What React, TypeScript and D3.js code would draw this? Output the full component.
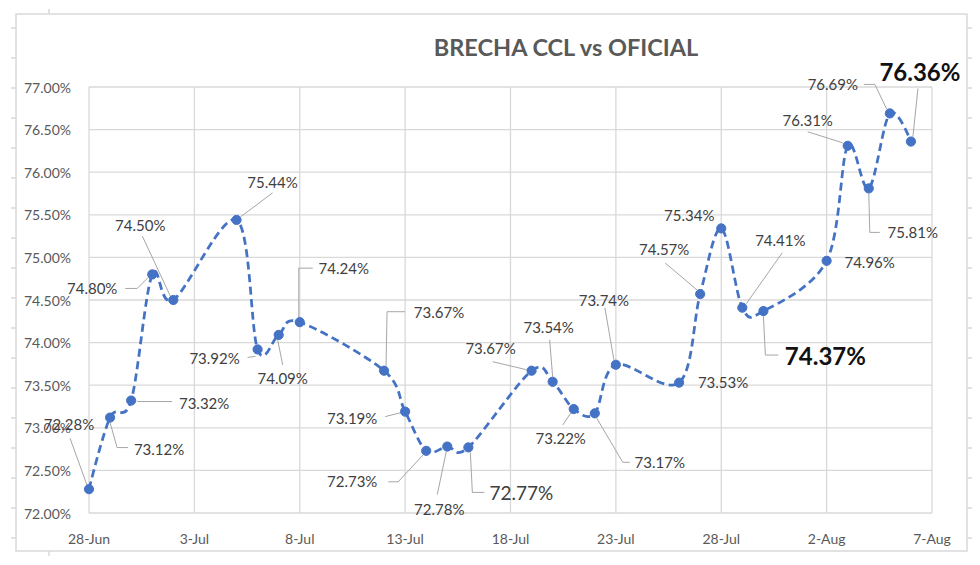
import React from "react";
import * as d3 from "d3";

const dates: string[] = [
  "2021-06-28", "2021-06-29", "2021-06-30", "2021-07-01", "2021-07-02",
  "2021-07-05", "2021-07-06", "2021-07-07", "2021-07-08",
  "2021-07-12", "2021-07-13", "2021-07-14", "2021-07-15", "2021-07-16",
  "2021-07-19", "2021-07-20", "2021-07-21", "2021-07-22", "2021-07-23",
  "2021-07-26", "2021-07-27", "2021-07-28", "2021-07-29", "2021-07-30",
  "2021-08-02", "2021-08-03", "2021-08-04", "2021-08-05", "2021-08-06",
];
const values: number[] = [
  72.28, 73.12, 73.32, 74.80, 74.50,
  75.44, 73.92, 74.09, 74.24,
  73.67, 73.19, 72.73, 72.78, 72.77,
  73.67, 73.54, 73.22, 73.17, 73.74,
  73.53, 74.57, 75.34, 74.41, 74.37,
  74.96, 76.31, 75.81, 76.69, 76.36,
];
const title = "BRECHA CCL vs OFICIAL";
const xDomain: string[] = ["2021-06-28", "2021-08-07"];
const yDomain: number[] = [72, 77];

// label layout (style): text centre offset from the point, leader polyline offsets, font
type LabelStyle = { dx: number; dy: number; leader?: number[][]; size?: number; bold?: boolean };
const labelLayout: LabelStyle[] = [
  { dx: -20, dy: -65, leader: [[-19, -51], [-2, -4]] },
  { dx: 49, dy: 31, leader: [[0, 5], [7, 30], [18, 30]] },
  { dx: 73, dy: 2, leader: [[6, 1], [41, 1]] },
  { dx: -60, dy: 14, leader: [[-27, 14], [-15, 14], [-4, 3]] },
  { dx: -33, dy: -75, leader: [[-31, -64], [-3, -4]] },
  { dx: 36, dy: -38, leader: [[36, -27], [4, -3]] },
  { dx: -43, dy: 9, leader: [[-10, 8], [-2, 7]] },
  { dx: 4, dy: 43, leader: [[4, 30], [-1, 5]] },
  { dx: 44, dy: -54, leader: [[13, -54], [-1, -54], [-1, -5]] },
  { dx: 55, dy: -59, leader: [[21, -59], [3, -59], [2, -5]] },
  { dx: -53, dy: 6, leader: [[-20, 5], [-4, 1]] },
  { dx: -74, dy: 30, leader: [[-38, 31], [-28, 31], [-3, 4]] },
  { dx: -8, dy: 62, leader: [[-10, 48], [-1, 5]] },
  { dx: 53, dy: 45, leader: [[2, 5], [4, 45], [16, 45]], size: 19 },
  { dx: -41, dy: -23, leader: [[-39, -9], [-5, -1]] },
  { dx: -4, dy: -55, leader: [[-3, -42], [0, -5]] },
  { dx: -13, dy: 29, leader: [[-11, 16], [-3, 4]] },
  { dx: 65, dy: 49, leader: [[2, 5], [28, 49], [35, 49]] },
  { dx: -12, dy: -65, leader: [[-11, -57], [-2, -5]] },
  { dx: 44, dy: -1 },
  { dx: -36, dy: -45, leader: [[-35, -31], [-3, -4]] },
  { dx: -32, dy: -13 },
  { dx: 38, dy: -68, leader: [[40, -55], [4, -4]] },
  { dx: 62, dy: 44, leader: [[0, 5], [2, 44], [15, 44]], size: 24, bold: true },
  { dx: 43, dy: 1 },
  { dx: -40, dy: -26, leader: [[-40, -14], [-5, -3]] },
  { dx: 44, dy: 44, leader: [[0, 5], [1, 44], [11, 44]] },
  { dx: -57, dy: -29, leader: [[-26, -29], [-15, -29], [-3, -4]] },
  { dx: 9, dy: -70, leader: [[7, -53], [2, -5]], size: 24, bold: true },
];

const W = 980;
const H = 565;
const FONT = "Lato, 'Open Sans', sans-serif";
const GRID = "#D9D9D9";
const BLUE = "#4472C4";

export default function App() {
  const parse = d3.utcParse("%Y-%m-%d");
  const pts = dates.map((d, i) => ({ date: parse(d) as Date, v: values[i] }));
  const x = d3.scaleUtc().domain(xDomain.map((d) => parse(d) as Date)).range([89, 932]);
  const y = d3.scaleLinear().domain(yDomain).range([513, 87]);

  const xTicks = d3.utcDay.range(x.domain()[0], d3.utcDay.offset(x.domain()[1], 1), 5);
  const yTicks = d3.range(yDomain[0], yDomain[1] + 0.001, 0.5);
  const fmtX = d3.utcFormat("%-d-%b");
  const fmtY = (v: number) => d3.format(".2f")(v) + "%";

  const line = d3
    .line<{ date: Date; v: number }>()
    .x((d) => x(d.date))
    .y((d) => y(d.v))
    .curve(d3.curveCardinal.tension(0));

  const frameTicksY = d3.range(28, 545, 30);

  return (
    <svg
      width={W}
      height={H}
      style={{ position: "absolute", left: 0, top: 0, background: "#fff" }}
      fontFamily={FONT}
    >
      <rect x={0} y={0} width={W} height={H} fill="#fff" />
      {/* outer frame */}
      <rect x={16} y={14} width={951} height={537} fill="none" stroke={GRID} strokeWidth={1.5} />
      {frameTicksY.map((t) => (
        <g key={"ft" + t}>
          <line x1={11} x2={16} y1={t} y2={t} stroke={GRID} strokeWidth={1.5} />
          <line x1={967} x2={972} y1={t} y2={t} stroke={GRID} strokeWidth={1.5} />
        </g>
      ))}
      <line x1={49} x2={49} y1={9} y2={14} stroke={GRID} strokeWidth={1.5} />
      <line x1={49} x2={49} y1={551} y2={556} stroke={GRID} strokeWidth={1.5} />

      {/* title */}
      <text x={566} y={47} textAnchor="middle" dominantBaseline="central" fontSize={23.5} fontWeight="bold" fill="#595959">
        {title}
      </text>

      {/* gridlines */}
      {yTicks.map((t) => (
        <line key={"gy" + t} x1={89} x2={932} y1={y(t)} y2={y(t)} stroke={GRID} strokeWidth={1.3} />
      ))}
      {xTicks.map((t) => (
        <line key={"gx" + t.getTime()} x1={x(t)} x2={x(t)} y1={87} y2={513} stroke={GRID} strokeWidth={1.3} />
      ))}

      {/* axis labels */}
      {yTicks.map((t) => (
        <text key={"ly" + t} x={71} y={y(t)} textAnchor="end" dominantBaseline="central" fontSize={14} fill="#595959">
          {fmtY(t)}
        </text>
      ))}
      {xTicks.map((t) => (
        <text key={"lx" + t.getTime()} x={x(t)} y={538} textAnchor="middle" dominantBaseline="central" fontSize={14} fill="#595959">
          {fmtX(t)}
        </text>
      ))}

      {/* leader lines */}
      {pts.map((p, i) => {
        const L = labelLayout[i];
        if (!L.leader) return null;
        const px = x(p.date);
        const py = y(p.v);
        return (
          <polyline
            key={"ld" + i}
            points={L.leader.map(([a, b]) => `${px + a},${py + b}`).join(" ")}
            fill="none"
            stroke="#A6A6A6"
            strokeWidth={1}
          />
        );
      })}

      {/* series */}
      <path d={line(pts) || ""} fill="none" stroke={BLUE} strokeWidth={2.75} strokeDasharray="8 4.5" />
      {pts.map((p, i) => (
        <circle key={"pt" + i} cx={x(p.date)} cy={y(p.v)} r={4.6} fill={BLUE} stroke={BLUE} strokeWidth={1} />
      ))}

      {/* data labels */}
      {pts.map((p, i) => {
        const L = labelLayout[i];
        return (
          <text
            key={"dl" + i}
            x={x(p.date) + L.dx}
            y={y(p.v) + L.dy}
            textAnchor="middle"
            dominantBaseline="central"
            fontSize={L.size || 15}
            fontWeight={L.bold ? "bold" : "normal"}
            fill={L.bold ? "#111" : "#404040"}
          >
            {d3.format(".2f")(p.v) + "%"}
          </text>
        );
      })}
    </svg>
  );
}
